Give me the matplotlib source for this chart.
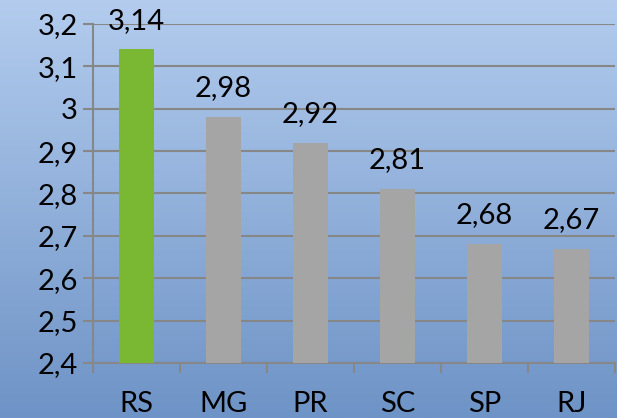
import numpy as np
import matplotlib.pyplot as plt
from matplotlib.colors import LinearSegmentedColormap

estados = ['RS', 'MG', 'PR', 'SC', 'SP', 'RJ']
valores = [3.14, 2.98, 2.92, 2.81, 2.68, 2.67]
cores = ['#7ab834', '#a5a5a5', '#a5a5a5', '#a5a5a5', '#a5a5a5', '#a5a5a5']
yticks = [2.4, 2.5, 2.6, 2.7, 2.8, 2.9, 3.0, 3.1, 3.2]

plt.rcParams['font.family'] = ['Lato', 'DejaVu Sans']

fig = plt.figure(figsize=(6.17, 4.18), dpi=100)

# fundo em degrade azul
bg = fig.add_axes([0, 0, 1, 1], zorder=-1)
grad = np.linspace(0, 1, 256).reshape(-1, 1)
cmap = LinearSegmentedColormap.from_list('fundo', ['#b3ccee', '#6e93c6'])
bg.imshow(grad, aspect='auto', cmap=cmap, extent=[0, 1, 0, 1])
bg.axis('off')

ax = fig.add_axes([0.1507, 0.1316, 0.8461, 0.811])
ax.patch.set_alpha(0)

x = np.arange(len(estados))
ax.bar(x, valores, width=0.4, color=cores, zorder=3)

for xi, v in zip(x, valores):
    ax.annotate(f'{v:.2f}'.replace('.', ','), (xi, v), xytext=(0, 15),
                textcoords='offset points', ha='center', va='baseline',
                fontsize=21, color='black')

ax.set_xlim(-0.5, len(estados) - 0.5)
ax.set_ylim(2.4, 3.2)
ax.set_yticks(yticks)
ax.set_yticklabels([('%g' % t).replace('.', ',') for t in yticks], fontsize=21)
ax.yaxis.grid(True, color='#878787', linewidth=1.5, zorder=0)

# rotulos no centro, ticks nas divisas
ax.set_xticks(x)
ax.set_xticklabels(estados, fontsize=21)
ax.set_xticks(np.arange(-0.5, len(estados)), minor=True)
ax.tick_params(axis='x', which='major', length=0, pad=20)
ax.tick_params(axis='x', which='minor', length=7, width=1.5, color='#878787')
ax.tick_params(axis='y', length=7, width=1.5, color='#878787', pad=4)

for s in ['top', 'right']:
    ax.spines[s].set_visible(False)
for s in ['left', 'bottom']:
    ax.spines[s].set_color('#878787')
    ax.spines[s].set_linewidth(1.5)

fig.savefig('out.png', dpi=100)
